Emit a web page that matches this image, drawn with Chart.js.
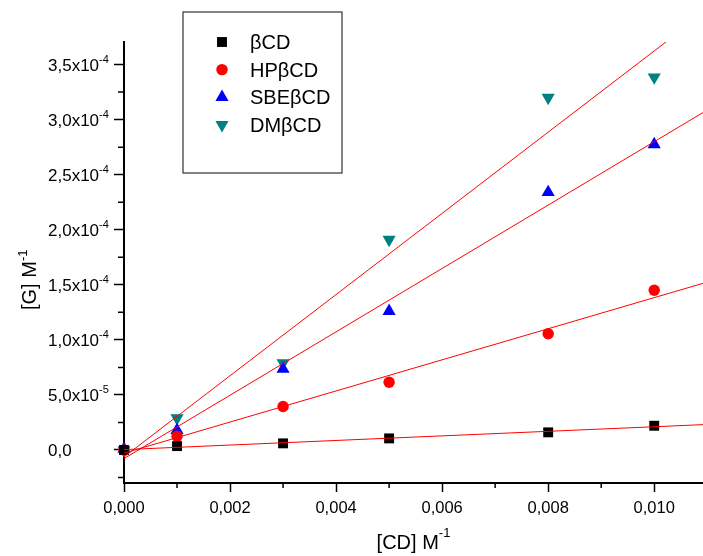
<!DOCTYPE html>
<html>
<head>
<meta charset="utf-8">
<script src="https://cdn.jsdelivr.net/npm/chart.js@4.4.0/dist/chart.umd.min.js"></script>
<style>
  html, body { margin: 0; padding: 0; background: #fff; }
  #wrap { width: 703px; height: 556px; }
</style>
</head>
<body>
<div id="wrap"><canvas id="bindingChart" width="703" height="556"></canvas></div>
<script>
// [CD] concentrations and measured [G] for each cyclodextrin
const concCD = [0, 0.001, 0.003, 0.005, 0.008, 0.010];
const betaCD = [0, 0.35e-5, 0.6e-5, 1.05e-5, 1.6e-5, 2.2e-5];
const hpBetaCD = [0, 1.25e-5, 3.95e-5, 6.15e-5, 10.55e-5, 14.5e-5];
const sbeBetaCD = [0.1e-5, 1.8e-5, 7.35e-5, 12.6e-5, 23.4e-5, 27.75e-5];
const dmBetaCD = [0, 2.9e-5, 7.9e-5, 19.1e-5, 32.0e-5, 33.85e-5];

const seriesNames = ['βCD', 'HPβCD', 'SBEβCD', 'DMβCD'];
const seriesValues = [betaCD, hpBetaCD, sbeBetaCD, dmBetaCD];

const xTicks = [0, 0.002, 0.004, 0.006, 0.008, 0.010];
const xTickLabels = ['0,000', '0,002', '0,004', '0,006', '0,008', '0,010'];
const yTicks = [0, 5e-5, 1e-4, 1.5e-4, 2e-4, 2.5e-4, 3e-4, 3.5e-4];
const yTickLabels = ['0,0', '5,0x10', '1,0x10', '1,5x10', '2,0x10', '2,5x10', '3,0x10', '3,5x10'];
const yTickExps = ['', '-5', '-4', '-4', '-4', '-4', '-4', '-4'];

const xMin = 0, xMax = 0.01092;
const yMin = -3.0e-5, yMax = 3.705e-4;

// marker look
const seriesColors = ['#000000', '#ff0000', '#0000ff', '#008080'];
const seriesShapes = ['rect', 'circle', 'triangle', 'triangle'];
const seriesRotation = [0, 0, 0, 180];
const seriesRadius = [7, 5.7, 7.6, 7.6];

const FONT = '"Liberation Sans", Arial, sans-serif';

function linearFit(xs, ys) {
    const n = xs.length;
    const mx = xs.reduce((s, v) => s + v, 0) / n;
    const my = ys.reduce((s, v) => s + v, 0) / n;
    let sxy = 0, sxx = 0;
    xs.forEach((xv, i) => {
        sxy += (xv - mx) * (ys[i] - my);
        sxx += (xv - mx) * (xv - mx);
    });
    const slope = sxy / sxx;
    return { slope: slope, intercept: my - slope * mx };
}

const fitDatasets = seriesValues.map(vals => {
    const fit = linearFit(concCD, vals);
    return {
        data: [
            { x: xMin, y: fit.intercept + fit.slope * xMin },
            { x: xMax, y: fit.intercept + fit.slope * xMax }
        ],
        showLine: true,
        borderColor: '#ff0000',
        borderWidth: 1,
        pointRadius: 0,
        order: 0
    };
});

const pointDatasets = seriesValues.map((vals, i) => ({
    label: seriesNames[i],
    data: concCD.map((c, j) => ({ x: c, y: vals[j] })),
    showLine: false,
    pointStyle: seriesShapes[i],
    rotation: seriesRotation[i],
    pointRadius: seriesRadius[i],
    backgroundColor: seriesColors[i],
    borderColor: seriesColors[i],
    pointBorderWidth: 0,
    clip: false,
    order: 1
}));

function drawSup(ctx, x, y, base, sup, baseSize, supSize, rise) {
    ctx.font = baseSize + 'px ' + FONT;
    ctx.fillText(base, x, y);
    const w = ctx.measureText(base).width;
    ctx.font = supSize + 'px ' + FONT;
    ctx.fillText(sup, x + w, y - rise);
}

function supWidth(ctx, base, sup, baseSize, supSize) {
    ctx.font = baseSize + 'px ' + FONT;
    const w1 = ctx.measureText(base).width;
    ctx.font = supSize + 'px ' + FONT;
    return w1 + ctx.measureText(sup).width;
}

const extras = {
    id: 'extras',
    afterDraw(chart) {
        const { ctx, chartArea: a, scales: { x, y } } = chart;
        ctx.save();
        ctx.strokeStyle = '#000';
        ctx.lineWidth = 1.5;

        // minor ticks
        ctx.beginPath();
        for (let v = 0.001; v <= xMax; v += 0.002) {
            const px = x.getPixelForValue(v);
            ctx.moveTo(px, a.bottom);
            ctx.lineTo(px, a.bottom + 5);
        }
        for (let k = -1; k < 16; k += 2) {
            const v = k * 2.5e-5;
            if (v < yMin || v > yMax) continue;
            const py = y.getPixelForValue(v);
            ctx.moveTo(a.left, py);
            ctx.lineTo(a.left - 6, py);
        }
        ctx.stroke();

        ctx.fillStyle = '#000';
        ctx.textBaseline = 'alphabetic';

        // x tick labels
        ctx.textAlign = 'center';
        ctx.font = '16.5px ' + FONT;
        xTicks.forEach((v, i) => {
            ctx.fillText(xTickLabels[i], x.getPixelForValue(v), 513);
        });

        // y tick labels, left aligned
        ctx.textAlign = 'left';
        yTicks.forEach((v, i) => {
            const py = y.getPixelForValue(v);
            drawSup(ctx, 48, py + 6.5, yTickLabels[i], yTickExps[i], 17, 11, 8.5);
        });

        // x title
        const tw = supWidth(ctx, '[CD] M', '-1', 20, 13);
        drawSup(ctx, (a.left + a.right) / 2 - tw / 2, 549, '[CD] M', '-1', 20, 13, 12);

        // y title
        ctx.save();
        ctx.translate(36, 310);
        ctx.rotate(-Math.PI / 2);
        drawSup(ctx, 0, 0, '[G] M', '-1', 20, 13, 9);
        ctx.restore();

        // legend box
        ctx.fillStyle = '#fff';
        ctx.fillRect(183, 12, 159, 161);
        ctx.strokeStyle = '#333';
        ctx.lineWidth = 1.2;
        ctx.strokeRect(183, 12, 159, 161);
        seriesNames.forEach((name, i) => {
            const ry = 42 + i * 27.6;
            ctx.fillStyle = seriesColors[i];
            Chart.helpers.drawPoint(ctx, {
                pointStyle: seriesShapes[i],
                rotation: seriesRotation[i],
                radius: seriesRadius[i],
                borderWidth: 0
            }, 222, ry);
            ctx.fillStyle = '#000';
            ctx.font = '20px ' + FONT;
            ctx.textAlign = 'left';
            ctx.fillText(name, 250, ry + 7);
        });
        ctx.restore();
    }
};

new Chart(document.getElementById('bindingChart'), {
    type: 'scatter',
    data: { datasets: fitDatasets.concat(pointDatasets) },
    options: {
        responsive: false,
        devicePixelRatio: 1,
        animation: false,
        layout: { autoPadding: false, padding: { top: 42, right: 0, left: 0, bottom: 0 } },
        plugins: {
            legend: { display: false },
            tooltip: { enabled: false }
        },
        scales: {
            x: {
                type: 'linear',
                min: xMin,
                max: xMax,
                afterBuildTicks: s => { s.ticks = xTicks.map(v => ({ value: v })); },
                afterFit: s => { s.height = 73; },
                ticks: { display: false },
                grid: { drawOnChartArea: false, drawTicks: true, tickLength: 9, tickColor: '#000', tickWidth: 1.5 },
                border: { display: true, color: '#000', width: 2 }
            },
            y: {
                type: 'linear',
                min: yMin,
                max: yMax,
                afterBuildTicks: s => { s.ticks = yTicks.map(v => ({ value: v })); },
                afterFit: s => { s.width = 124; },
                ticks: { display: false },
                grid: { drawOnChartArea: false, drawTicks: true, tickLength: 10, tickColor: '#000', tickWidth: 1.5 },
                border: { display: true, color: '#000', width: 2 }
            }
        }
    },
    plugins: [extras]
});
</script>
</body>
</html>
